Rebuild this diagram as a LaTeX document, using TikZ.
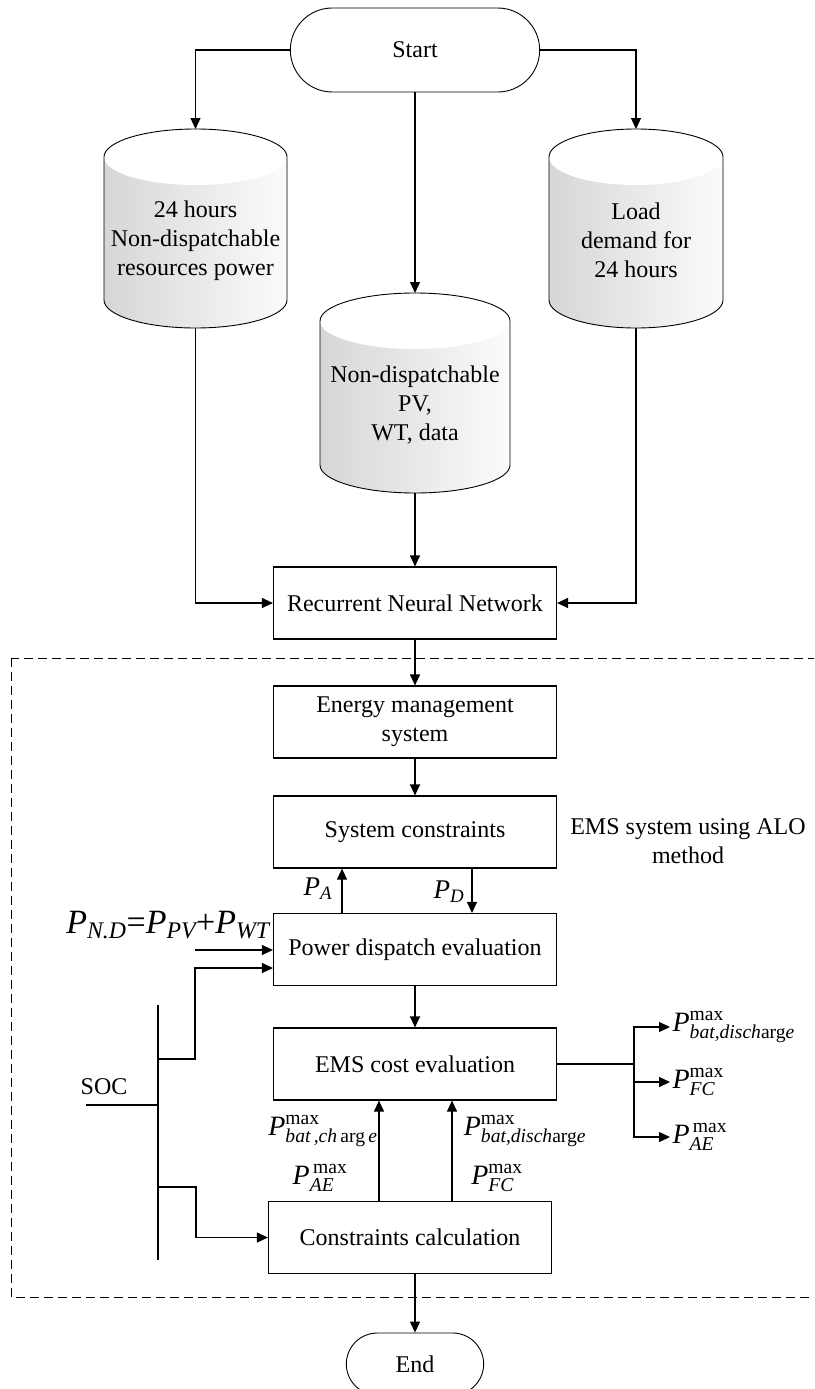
\RequirePackage{fix-cm}
\documentclass[tikz,border=0pt]{standalone}
\usepackage{fontspec}
\usepackage{amsmath}
\setmainfont{Liberation Serif}
\usetikzlibrary{arrows.meta,shapes.misc}

% data store drawn as a cylinder: name, x, top, bottom, x radius, text
\newcommand{\datastore}[6]{%
  \path[left color=gray!32,right color=gray!3]
    (#2-#5,#3+28) -- (#2-#5,#4-28)
    arc[start angle=180,end angle=360,x radius=#5pt,y radius=28pt]
    -- (#2+#5,#3+28)
    arc[start angle=0,end angle=180,x radius=#5pt,y radius=28pt] -- cycle;
  \fill[white] (#2,#3+28) ellipse[x radius=#5pt,y radius=28pt];
  \draw[line width=0.9pt] (#2-#5,#3+28) -- (#2-#5,#4-28)
    arc[start angle=180,end angle=360,x radius=#5pt,y radius=28pt]
    -- (#2+#5,#3+28)
    arc[start angle=0,end angle=180,x radius=#5pt,y radius=28pt] -- cycle;
  \coordinate (#1top) at (#2,#3);
  \coordinate (#1bot) at (#2,#4);
  \node[align=center] (#1) at (#2,{(#3+#4)/2+12}) {#6};
}

\begin{document}
\begin{tikzpicture}[x=1pt,y=-1pt,line width=1.2pt,
  font=\fontsize{24}{29}\selectfont,
  >={Triangle[length=11pt,width=10pt]},
  box/.style={draw,minimum width=283pt,minimum height=72pt,align=center},
  term/.style={draw,line width=0.9pt,rounded rectangle,minimum width=256pt,minimum height=84pt},
  plbl/.style={font=\fontsize{28}{28}\selectfont,inner sep=2pt}]
  \useasboundingbox (0,0) rectangle (814,1389);
  \clip (0,0) rectangle (814,1389);

  % Start and the data sources
  \node[term] (start) at (415,50) {Start};
  \datastore{hours}{195.5}{129}{328}{91.5}{24 hours\\Non-dispatchable\\resources power}
  \datastore{load}{636}{129}{328}{87}{Load\\demand for\\24 hours}
  \datastore{pvwt}{415}{293}{493}{95}{Non-dispatchable\\PV,\\WT, data}
  \draw[->] (start.west) -| (hourstop);
  \draw[->] (start.east) -| (loadtop);
  \draw[->] (start.south) -- (pvwttop);

  % Forecast
  \node[box] (rnn) at (415,603) {Recurrent Neural Network};
  \draw[->] (pvwtbot) -- (rnn.north);
  \draw[->] (hoursbot) |- (rnn.west);
  \draw[->] (loadbot) |- (rnn.east);

  % EMS part
  \draw[line width=1pt,dash pattern=on 9pt off 5pt] (11,658) rectangle (860,1297);
  \node[box] (ems) at (415,722) {Energy management\\system};
  \node[box] (sys) at (415,832) {System constraints};
  \node[box] (pde) at (415,949.5) {Power dispatch evaluation};
  \node[box] (cost) at (415,1064) {EMS cost evaluation};
  \node[box] (calc) at (410,1237.5) {Constraints calculation};
  \node[term,minimum width=144pt,minimum height=62pt] (stop) at (415,1364) {End};
  \node[align=center] (alo) at (688,841) {EMS system using ALO\\method};

  \draw[->] (rnn) -- (ems);
  \draw[->] (ems) -- (sys);
  \draw[->] ([xshift=-73pt]pde.north) -- ([xshift=-73pt]sys.south);
  \draw[->] ([xshift=57pt]sys.south) -- ([xshift=57pt]pde.north);
  \node[font=\fontsize{27}{27}\selectfont] (pa) at (318,889) {$\textit{P}_{\textit{A}}$};
  \node[font=\fontsize{27}{27}\selectfont] (pd) at (449,892) {$\textit{P}_{\textit{D}}$};
  \draw[->] (pde) -- (cost);

  % Inputs
  \node[font=\fontsize{34}{34}\selectfont,inner sep=1pt] (pnd) at (168,925)
    {$\textit{P}_{\textit{N.D}}{\textrm{=}}\textit{P}_{\textit{PV}}{\textrm{+}}\textit{P}_{\textit{WT}}$};
  \coordinate (ndin) at (195,950);
  \draw[->] (ndin) -- (ndin -| pde.west);
  \coordinate (soctop) at (158,1005);
  \coordinate (socbot) at (158,1260);
  \coordinate (socin) at (86,1105);
  \coordinate (b1) at (158,1059);
  \coordinate (b2) at (158,1187);
  \node (soc) at (104,1087) {SOC};
  \draw (soctop) -- (socbot);
  \draw (socin) -- (socin -| soctop);
  \draw[->] (b1) -- ++(37,0) |- ([yshift=-18.5pt]pde.west);
  \draw[->] (b2) -- ++(38,0) |- (calc.west);

  % Limits back to the cost
  \coordinate (c1) at ([xshift=-36pt]cost.south);
  \coordinate (c2) at ([xshift=37pt]cost.south);
  \draw[->] (c1 |- calc.north) -- (c1);
  \draw[->] (c2 |- calc.north) -- (c2);
  \node[plbl] (chg) at (323,1131) {$\textit{P}^{\textrm{max}}_{\textit{bat\,,ch}\,\textrm{arg}\,\textit{e}}$};
  \node[plbl] (aein) at (320,1178) {$\textit{P}^{\,\textrm{max}}_{\textit{AE}}$};
  \node[plbl] (dis) at (525,1131) {$\textit{P}^{\textrm{max}}_{\textit{bat,disch}\textrm{arg}\textit{e}}$};
  \node[plbl] (fcin) at (497,1178) {$\textit{P}^{\textrm{max}}_{\textit{FC}}$};

  % Outputs
  \coordinate (split) at (634,1064);
  \node[plbl,anchor=west] (o1) at (670,1027) {$\textit{P}^{\textrm{max}}_{\textit{bat,disch}\textrm{arg}\textit{e}}$};
  \node[plbl,anchor=west] (o2) at (670,1082) {$\textit{P}^{\textrm{max}}_{\textit{FC}}$};
  \node[plbl,anchor=west] (o3) at (670,1137) {$\textit{P}^{\,\textrm{max}}_{\textit{AE}}$};
  \draw (cost.east) -- (split);
  \draw[->] (split) |- (o1.west);
  \draw[->] (split) |- (o2.west);
  \draw[->] (split) |- (o3.west);

  \draw[->] (calc.south -| stop.north) -- (stop.north);
\end{tikzpicture}
\end{document}
